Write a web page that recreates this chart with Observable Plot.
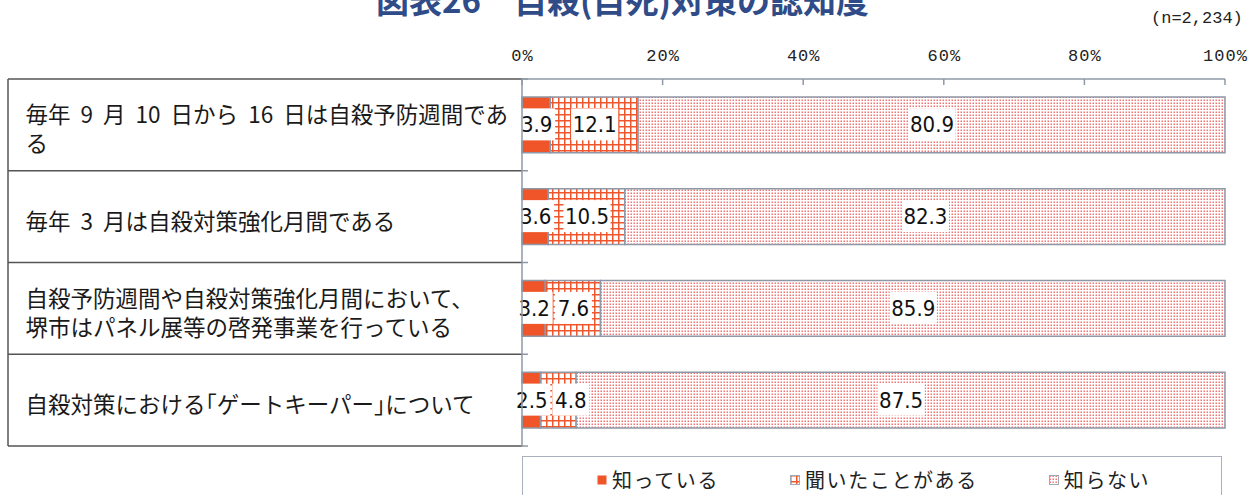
<!DOCTYPE html>
<html>
<head>
<meta charset="utf-8">
<script src="https://cdn.jsdelivr.net/npm/d3@7"></script>
<script src="https://cdn.jsdelivr.net/npm/@observablehq/plot@0.6"></script>
<style>
  html, body { margin: 0; padding: 0; background: #fff; }
  body { width: 1260px; height: 495px; overflow: hidden; position: relative; font-family: "Noto Sans CJK JP", sans-serif; }
  #title { position: absolute; left: 0; width: 1245px; top: -17px; text-align: center; font-size: 33px; line-height: 33px; font-weight: 700; color: #2f4c88; white-space: nowrap; }
  #nlabel { position: absolute; left: 1151px; top: 8px; font-family: "Liberation Mono", monospace; font-size: 17px; line-height: 22px; color: #222; }
  #chart { position: absolute; left: 0; top: 0; }
  #legend { position: absolute; left: 522px; top: 456px; width: 700px; height: 44px; border: 1.5px solid #a9b1bc; box-sizing: border-box; display: flex; gap: 71px; padding-left: 74px; padding-top: 3px; }
  .item { display: flex; align-items: center; font-size: 20px; line-height: 26px; letter-spacing: 1.6px; color: #222; }
  .item svg { margin-right: 5px; }
  g[aria-label="x-axis tick label"] text { letter-spacing: 1px; }
</style>
</head>
<body>
<div id="title">図表26　自殺(自死)対策の認知度</div>
<div id="nlabel">(n=2,234)</div>
<div id="chart"></div>
<div id="legend"></div>
<script>
// ---- data ----
const questions = [
  "毎年 9 月 10 日から 16 日は自殺予防週間である",
  "毎年 3 月は自殺対策強化月間である",
  "自殺予防週間や自殺対策強化月間において、堺市はパネル展等の啓発事業を行っている",
  "自殺対策における「ゲートキーパー」について"
];
const questionLines = [
  ["毎年 9 月 10 日から 16 日は自殺予防週間であ", "る"],
  ["毎年 3 月は自殺対策強化月間である"],
  ["自殺予防週間や自殺対策強化月間において、", "堺市はパネル展等の啓発事業を行っている"],
  ["自殺対策における「ゲートキーパー」について"]
];
const answers = ["知っている", "聞いたことがある", "知らない"];
const knows   = [3.9, 3.6, 3.2, 2.5];
const heard   = [12.1, 10.5, 7.6, 4.8];
const notKnow = [80.9, 82.3, 85.9, 87.5];
const xTicks  = [0, 20, 40, 60, 80, 100];

// ---- styling ----
const patternIds = ["pKnow", "pHeard", "pNot"];
const svgns = "http://www.w3.org/2000/svg";
const defsMarkup = `
<pattern id="pKnow" width="4" height="4" patternUnits="userSpaceOnUse"><rect width="4" height="4" fill="#ef5529"/></pattern>
<pattern id="pHeard" width="6" height="6" patternUnits="userSpaceOnUse"><rect width="6" height="6" fill="#fff"/><path d="M0 0.75H6M0.75 0V6" stroke="#f0562b" stroke-width="1.5"/></pattern>
<pattern id="pNot" width="3" height="3" patternUnits="userSpaceOnUse"><rect width="3" height="3" fill="#fff"/><rect x="0.5" y="0.5" width="1.5" height="1.5" fill="#f27474"/></pattern>`;

const rows = questions.flatMap((q, i) => [
  {q, answer: answers[0], value: knows[i]},
  {q, answer: answers[1], value: heard[i]},
  {q, answer: answers[2], value: notKnow[i]}
]);

const labelSize = 22;
function parsePos(t) {
  const tr = t.getAttribute("transform") || "";
  const m = tr.match(/translate\(\s*([-\d.e]+)[ ,]+([-\d.e]+)\s*\)/);
  if (m) return {x: +m[1], y: +m[2], mode: "transform"};
  return {x: parseFloat(t.getAttribute("x")) || 0, y: parseFloat(t.getAttribute("y")) || 0, mode: "attr"};
}
function setPos(t, p) {
  if (p.mode === "transform") t.setAttribute("transform", `translate(${p.x},${p.y})`);
  else { t.setAttribute("x", p.x); }
}
function labelBoxes(index, scales, values, dims, ctx, next) {
  const g = next(index, scales, values, dims, ctx);
  const items = Array.from(g.querySelectorAll("text")).map(t => {
    const s = t.textContent;
    const w = [...s].reduce((a, c) => a + (c === "." ? 0.228 : 0.456) * labelSize, 0) + 12;
    return {t, w, p: parsePos(t)};
  });
  // avoid overlapping boxes within a row: push later label to the right
  const byRow = d3.group(items, d => Math.round(d.p.y));
  for (const list of byRow.values()) {
    list.sort((a, b) => a.p.x - b.p.x);
    for (let k = 1; k < list.length; k++) {
      const prev = list[k - 1], cur = list[k];
      const prevRight = prev.p.x + prev.w / 2, curLeft = cur.p.x - cur.w / 2;
      if (curLeft < prevRight + 2) { cur.p.x += prevRight + 2 - curLeft; setPos(cur.t, cur.p); }
    }
  }
  items.forEach(({t, w, p}) => {
    const r = document.createElementNS(svgns, "rect");
    if (p.mode === "transform") {
      r.setAttribute("transform", `translate(${p.x},${p.y})`);
      r.setAttribute("x", -w / 2); r.setAttribute("y", -17);
    } else {
      r.setAttribute("x", p.x - w / 2); r.setAttribute("y", p.y - 17);
    }
    r.setAttribute("width", w);
    r.setAttribute("height", 32);
    r.setAttribute("fill", "#fff");
    r.setAttribute("stroke", "none");
    t.parentNode.insertBefore(r, t);
  });
  return g;
}
function rowLabelStyle(index, scales, values, dims, ctx, next) {
  const g = next(index, scales, values, dims, ctx);
  g.style.wordSpacing = "5px";
  g.style.fontFeatureSettings = '"halt" 1';
  return g;
}

function frameLines(index, scales, values, dims) {
  const {x, y} = scales;
  const bw = typeof y.bandwidth === "function" ? y.bandwidth()
    : (dims.height - dims.marginTop - dims.marginBottom) / questions.length;
  const x0 = x(0), x1 = x(1);
  const top = y(questions[0]);
  const bottom = y(questions[questions.length - 1]) + bw;
  const bounds = questions.map(q => y(q)).concat([bottom]);
  const tableLeft = dims.marginLeft - 514;
  const g = d3.create("svg:g").attr("fill", "none");
  g.selectAll("line.tab").data(bounds).join("line")
    .attr("x1", tableLeft).attr("x2", x0).attr("y1", d => d).attr("y2", d => d)
    .attr("stroke", "#555").attr("stroke-width", 1.5);
  g.append("line").attr("x1", tableLeft).attr("x2", tableLeft).attr("y1", top).attr("y2", bottom)
    .attr("stroke", "#555").attr("stroke-width", 1.5);
  const ax = "#8e98a6";
  g.append("line").attr("x1", x0).attr("x2", x1).attr("y1", top).attr("y2", top).attr("stroke", ax).attr("stroke-width", 1.5);
  g.selectAll("line.xt").data(xTicks).join("line")
    .attr("x1", d => x(d / 100)).attr("x2", d => x(d / 100)).attr("y1", top).attr("y2", top + 6)
    .attr("stroke", ax).attr("stroke-width", 1.5);
  g.append("line").attr("x1", x0).attr("x2", x0).attr("y1", top).attr("y2", bottom + 1).attr("stroke", ax).attr("stroke-width", 1.5);
  g.selectAll("line.yt").data(bounds).join("line")
    .attr("x1", x0).attr("x2", x0 + 6).attr("y1", d => d).attr("y2", d => d)
    .attr("stroke", ax).attr("stroke-width", 1.5);
  return g.node();
}

const chart = Plot.plot({
  width: 1260,
  height: 456,
  marginLeft: 522,
  marginRight: 35,
  marginTop: 79,
  marginBottom: 10,
  style: {background: "transparent", fontFamily: "'Noto Sans CJK JP', sans-serif", overflow: "visible"},
  x: {domain: [0, 1], axis: null},
  y: {domain: questions, padding: 0, axis: null, round: false},
  color: {domain: answers, range: patternIds.map(id => `url(#${id})`)},
  marks: [
    Plot.barX(rows, Plot.stackX({
      x: "value", y: "q", fill: "answer", offset: "normalize",
      insetTop: 18, insetBottom: 18, stroke: "#8e98a6", strokeWidth: 1.5
    })),
    Plot.text(rows, Plot.stackX({
      x: "value", y: "q", z: "answer", offset: "normalize",
      text: d => d.value.toFixed(1),
      fontFamily: "'Liberation Sans Narrow', 'DejaVu Sans Condensed', sans-serif",
      fontSize: labelSize, fill: "#111",
      render: labelBoxes
    })),
    Plot.text(questions, {
      y: d => d, text: (d, i) => questionLines[i].join("\n"),
      frameAnchor: "left", textAnchor: "start", dx: -497, dy: 3,
      fontSize: 22.5, lineHeight: 1.3, fill: "#1a1a1a",
      render: rowLabelStyle
    }),
    Plot.axisX({
      anchor: "top", ticks: xTicks.map(t => t / 100),
      tickFormat: d => `${Math.round(d * 100)}%`, label: null,
      tickSize: 0, tickPadding: 19, fontSize: 17,
      fontFamily: "'Liberation Mono', monospace", fill: "#222"
    }),
    frameLines
  ]
});

const defs = document.createElementNS(svgns, "defs");
defs.innerHTML = defsMarkup;
chart.insertBefore(defs, chart.firstChild);
document.getElementById("chart").append(chart);

// legend
const legend = d3.select("#legend");
answers.forEach((a, i) => {
  const item = legend.append("div").attr("class", "item");
  const s = item.append("svg").attr("width", 10).attr("height", 10);
  s.append("rect").attr("x", 0.5).attr("y", 0.5).attr("width", 9).attr("height", 9)
    .attr("fill", `url(#${patternIds[i]})`).attr("stroke", i === 0 ? "none" : "#a0a8b4");
  item.append("span").text(a);
});
</script>
</body>
</html>
